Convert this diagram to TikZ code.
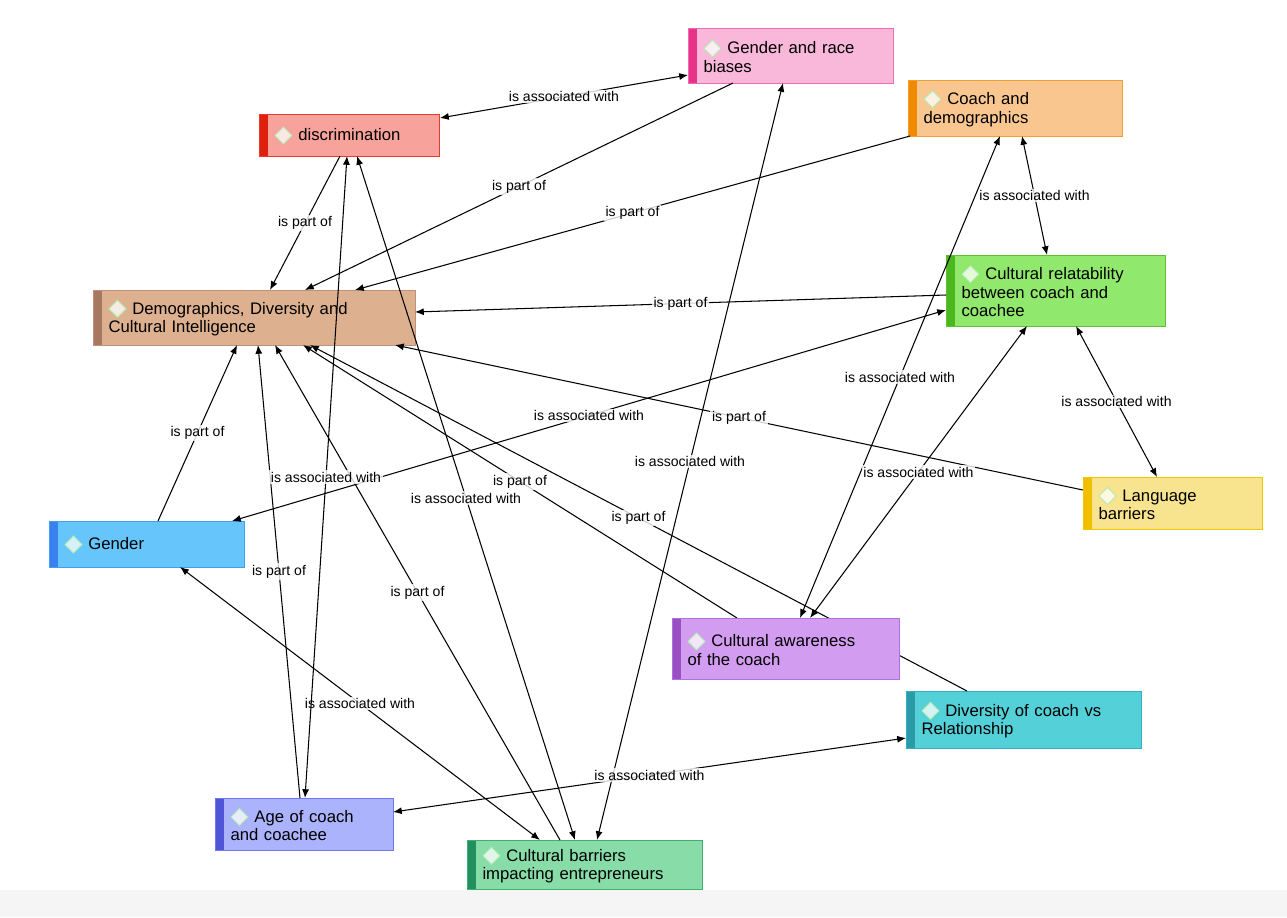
\documentclass[tikz,border=0pt]{standalone}
\usepackage{fontspec}
\setmainfont{Liberation Sans}
\usetikzlibrary{calc,arrows.meta}
\newcommand\dia{\tikz[baseline=-0.6ex]\draw[fill=white,fill opacity=0.75,draw=black!25!green!30!white,line width=0.5pt] (0cm,0.17cm)--(0.17cm,0cm)--(0cm,-0.17cm)--(-0.17cm,0cm)--cycle;\hspace{0.12cm}}
\newcommand\pp[3]{($(#1.north west)+(#2,#3)$)}
\definecolor{fGRB}{HTML}{F9B8DA}\definecolor{bGRB}{HTML}{E8338A}\definecolor{dGRB}{HTML}{F06BB0}
\definecolor{fDIS}{HTML}{F7A29A}\definecolor{bDIS}{HTML}{E0200F}\definecolor{dDIS}{HTML}{E83A2A}
\definecolor{fCD}{HTML}{F9C690}\definecolor{bCD}{HTML}{F08A00}\definecolor{dCD}{HTML}{F0A030}
\definecolor{fDDC}{HTML}{DDB190}\definecolor{bDDC}{HTML}{A87760}\definecolor{dDDC}{HTML}{C0907A}
\definecolor{fCR}{HTML}{90E86C}\definecolor{bCR}{HTML}{4DB81E}\definecolor{dCR}{HTML}{60C030}
\definecolor{fLB}{HTML}{F8E48E}\definecolor{bLB}{HTML}{F0C000}\definecolor{dLB}{HTML}{F0C800}
\definecolor{fG}{HTML}{66C6FC}\definecolor{bG}{HTML}{3A80F0}\definecolor{dG}{HTML}{40A0F0}
\definecolor{fCA}{HTML}{D29CF0}\definecolor{bCA}{HTML}{9A50C0}\definecolor{dCA}{HTML}{B070E0}
\definecolor{fDCR}{HTML}{54D0D8}\definecolor{bDCR}{HTML}{2A9AA8}\definecolor{dDCR}{HTML}{30B0C0}
\definecolor{fAGE}{HTML}{ABB3FC}\definecolor{bAGE}{HTML}{5055D8}\definecolor{dAGE}{HTML}{7078F0}
\definecolor{fCB}{HTML}{88DCA8}\definecolor{bCB}{HTML}{209060}\definecolor{dCB}{HTML}{40B070}
\tikzset{
 box/.style n args={4}{rectangle, anchor=north west, fill=f#1, draw=d#1, line width=0.6pt,
   minimum width=#2, minimum height=#3, text width=#4, inner xsep=0.3cm, inner ysep=0pt,
   align=left, font=\fontsize{9.5}{10.6}\selectfont,
   path picture={\fill[b#1] (path picture bounding box.north west) rectangle ([xshift=0.16cm]path picture bounding box.south west);}},
 rel/.style={-{Latex[length=5pt,width=4pt]}, line width=0.6pt},
 assoc/.style={{Latex[length=5pt,width=4pt]}-{Latex[length=5pt,width=4pt]}, line width=0.6pt},
 lab/.style={midway, font=\fontsize{8}{9}\selectfont, fill=white, fill opacity=0.8, text opacity=1, inner sep=1pt}
}
\begin{document}
\begin{tikzpicture}[x=0.02cm,y=-0.02cm]
\useasboundingbox (0,0) rectangle (1287,917);
\fill[white] (0,0) rectangle (1287,917);
% nodes
\node[box={GRB}{4.1cm}{1.1cm}{3.5cm}] (GRB) at (688,28) {\dia Gender and race\\biases};
\node[box={DIS}{3.6cm}{0.84cm}{3.0cm}] (DIS) at (259,114) {\dia discrimination};
\node[box={CD}{4.28cm}{1.12cm}{3.68cm}] (CD) at (908,80) {\dia Coach and\\demographics};
\node[box={DDC}{6.44cm}{1.1cm}{5.84cm}] (DDC) at (93,290) {\dia Demographics, Diversity and\\Cultural Intelligence};
\node[box={CR}{4.38cm}{1.42cm}{3.78cm}] (CR) at (946,255) {\dia Cultural relatability\\between coach and\\coachee};
\node[box={LB}{3.58cm}{1.04cm}{2.98cm}] (LB) at (1083,477) {\dia Language\\barriers};
\node[box={G}{3.9cm}{0.92cm}{3.3cm}] (G) at (49,521) {\dia Gender};
\node[box={CA}{4.54cm}{1.22cm}{3.94cm}] (CA) at (672,618) {\dia Cultural awareness\\of the coach};
\node[box={DCR}{4.7cm}{1.14cm}{4.1cm}] (DCR) at (906,691) {\dia Diversity of coach vs\\Relationship};
\node[box={AGE}{3.56cm}{1.04cm}{2.96cm}] (AGE) at (215,798) {\dia Age of coach\\and coachee};
\node[box={CB}{4.7cm}{0.98cm}{4.1cm}] (CB) at (467,840) {\dia Cultural barriers\\impacting entrepreneurs};
% connectors
\draw[assoc] \pp{DIS}{181}{4} -- node[lab]{is associated with} \pp{GRB}{0}{47};
\draw[rel] \pp{GRB}{45}{55} -- node[lab]{is part of} \pp{DDC}{212}{0};
\draw[rel] \pp{CD}{2}{56} -- node[lab]{is part of} \pp{DDC}{262}{0};
\draw[rel] \pp{DIS}{81}{42} -- node[lab]{is part of} \pp{DDC}{177}{0};
\draw[rel] \pp{CR}{0}{40} -- node[lab]{is part of} \pp{DDC}{322}{22};
\draw[assoc] \pp{CD}{114}{56} -- node[lab]{is associated with} \pp{CR}{101}{0};
\draw[assoc] \pp{CR}{130}{71} -- node[lab]{is associated with} \pp{LB}{74}{0};
\draw[rel] \pp{LB}{0}{13} -- node[lab]{is part of} \pp{DDC}{302}{55};
\draw[assoc] \pp{CR}{0}{55} -- node[lab]{is associated with} \pp{G}{183}{0};
\draw[rel] \pp{G}{109}{0} -- node[lab]{is part of} \pp{DDC}{144}{55};
\draw[rel] \pp{AGE}{85}{0} -- node[lab]{is part of} \pp{DDC}{165}{55};
\draw[rel] \pp{CB}{93}{0} -- node[lab]{is part of} \pp{DDC}{182}{55};
\draw[assoc] \pp{CB}{108}{0} -- node[lab]{is associated with} \pp{DIS}{98}{42};
\draw[assoc] \pp{GRB}{95}{55} -- node[lab]{is associated with} \pp{CB}{130}{0};
\draw[assoc] \pp{G}{131}{46} -- node[lab]{is associated with} \pp{CB}{73}{0};
\draw[rel] \pp{CA}{65}{0} -- node[lab]{is part of} \pp{DDC}{210}{55};
\draw[rel] \pp{DCR}{61}{0} -- node[lab]{is part of} \pp{DDC}{217}{55};
\draw[assoc] \pp{CA}{128}{0} -- node[lab]{is associated with} \pp{CD}{92}{56};
\draw[assoc] \pp{CA}{138}{0} -- node[lab]{is associated with} \pp{CR}{81}{71};
\draw[assoc] \pp{AGE}{178}{14} -- node[lab]{is associated with} \pp{DCR}{0}{47};
\draw[assoc] \pp{AGE}{90}{0} -- node[lab]{is associated with} \pp{DIS}{88}{42};
% redraw nodes on top of connectors
\node[box={CA}{4.54cm}{1.22cm}{3.94cm}] at (672,618) {\dia Cultural awareness\\of the coach};
% bottom strip
\fill[black!4] (0,890) rectangle (1287,917);
\end{tikzpicture}
\end{document}
